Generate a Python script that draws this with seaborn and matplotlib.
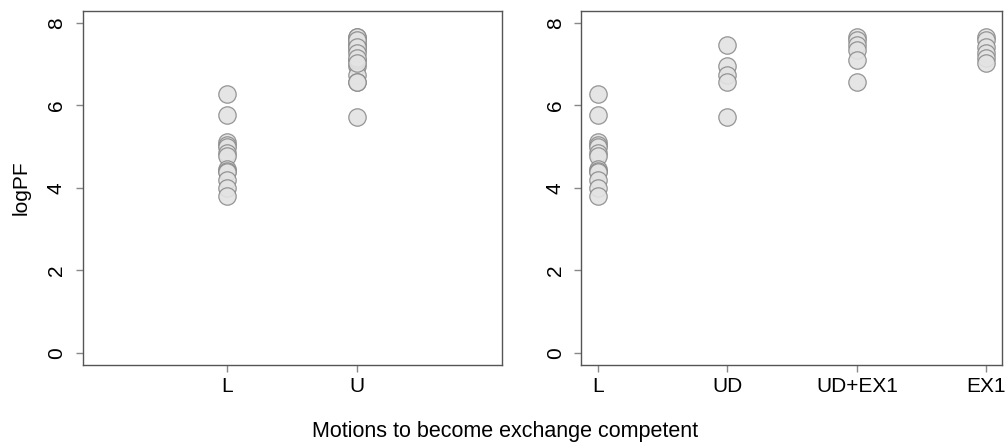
import matplotlib
matplotlib.use("Agg")
import matplotlib.pyplot as plt
import seaborn as sns
import pandas as pd

sns.set_style("white")
plt.rcParams['font.family'] = ['Liberation Sans', 'DejaVu Sans']
plt.rcParams['text.color'] = 'black'

# Data (logPF values)
L_vals = [6.28, 5.78, 5.12, 5.05, 5.0, 4.85, 4.78, 4.45, 4.4, 4.38, 4.2, 4.0, 3.8]
UD_vals = [7.47, 6.97, 6.74, 6.56, 5.73]
UDEX1_vals = [7.67, 7.59, 7.47, 7.35, 7.10, 6.56]
EX1_vals = [7.67, 7.59, 7.43, 7.27, 7.15, 7.02]
U_vals = UD_vals + UDEX1_vals + EX1_vals

left_cats = ["L", "U"]
right_cats = ["L", "UD", "UD+EX1", "EX1"]
y_ticks = [0, 2, 4, 6, 8]

df_left = pd.DataFrame({
    "group": ["L"] * len(L_vals) + ["U"] * len(U_vals),
    "logPF": L_vals + U_vals,
})
df_right = pd.DataFrame({
    "group": ["L"] * len(L_vals) + ["UD"] * len(UD_vals)
             + ["UD+EX1"] * len(UDEX1_vals) + ["EX1"] * len(EX1_vals),
    "logPF": L_vals + UD_vals + UDEX1_vals + EX1_vals,
})

W, H = 1007, 445
fig = plt.figure(figsize=(W / 100, H / 100), dpi=100)
ax1 = fig.add_axes([82.5 / W, (H - 364.7) / H, 419.5 / W, 354 / H])
ax2 = fig.add_axes([581.3 / W, (H - 364.7) / H, 420.7 / W, 354 / H])

mk = dict(jitter=False, s=12.5, color="#e3e3e3", edgecolor="#8a8a8a",
          linewidth=0.9, alpha=0.9)
sns.stripplot(data=df_left, x="group", y="logPF", order=left_cats, ax=ax1, **mk)
sns.stripplot(data=df_right, x="group", y="logPF", order=right_cats, ax=ax2, **mk)

ax1.set_xlim(-1.11, 2.11)
ax2.set_xlim(-0.127, 3.12)

for ax in (ax1, ax2):
    ax.set_ylim(-0.29, 8.30)
    ax.set_yticks(y_ticks)
    ax.set_yticklabels([str(t) for t in y_ticks], rotation=90, va="center")
    ax.set_xlabel("")
    ax.set_ylabel("")
    for sp in ax.spines.values():
        sp.set_visible(True)
        sp.set_color("#555555")
        sp.set_linewidth(1.0)
    ax.tick_params(axis="both", which="both", direction="out", length=5,
                   width=1, color="#888888", labelsize=15, labelcolor="black",
                   left=True, bottom=True, pad=4)
    ax.tick_params(axis="y", pad=7)

ax1.set_ylabel("logPF", fontsize=15, labelpad=12, color="black")
fig.text(505 / W, 1 - 432 / H, "Motions to become exchange competent",
         ha="center", va="center", fontsize=15.5, color="black")

fig.savefig("out.png", dpi=100)
